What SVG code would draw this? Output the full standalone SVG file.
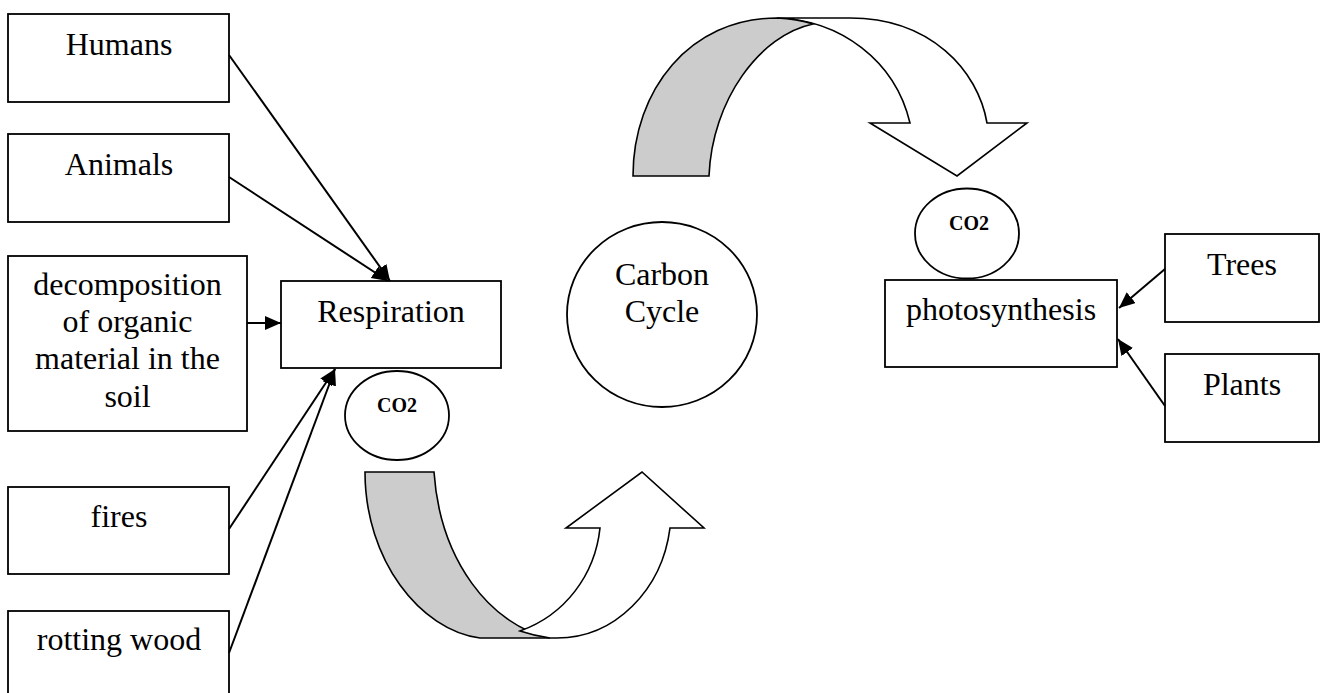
<svg xmlns="http://www.w3.org/2000/svg" width="1321" height="693" viewBox="0 0 1321 693">
<style>
.box{fill:#fff;stroke:#000;stroke-width:1.8}
.t{font-family:"Liberation Serif","Times New Roman",serif;font-size:32px;fill:#000;text-anchor:middle}
.co{font-family:"Liberation Serif","Times New Roman",serif;font-size:20px;font-weight:bold;fill:#000;text-anchor:middle}
.conn line{stroke:#000;stroke-width:2}
.band{stroke:#000;stroke-width:1.6;stroke-linejoin:miter}
</style>
<defs>
<marker id="ah" markerUnits="userSpaceOnUse" markerWidth="18" markerHeight="16" refX="16" refY="7" orient="auto">
<path d="M0,0 L16,7 L0,14 Z" fill="#000"/>
</marker>
</defs>
<rect width="1321" height="693" fill="#fff"/>

<g id="arrow-top">
<path class="band" fill="#fff" d="M777,18 L850,18 C930,18 978,70 987,123 L1027,123 L957,176 L870,123 L910,123 C895,60 840,20 777,18 Z"/>
<path class="band" fill="#ccc" d="M633,176 C633,90 690,18 777,18 Q797,19 813,24 C760,35 712,100 709,176 Z"/>
</g>
<g id="arrow-bottom">
<path class="band" fill="#ccc" d="M365,472 L434,472 C440,560 490,625 550,638 L480,638 C420,630 365,560 365,472 Z"/>
<path class="band" fill="#fff" d="M600,528 C595,575 565,615 520,631 Q535,636 550,638 L557,638 C615,638 662,590 670,528 L704,528 L642,472 L566,528 Z"/>
</g>

<g id="humans"><rect class="box" x="8" y="14" width="221" height="88"/><text class="t" x="119" y="55">Humans</text></g>
<g id="animals"><rect class="box" x="8" y="134" width="221" height="88"/><text class="t" x="119" y="175">Animals</text></g>
<g id="decomposition"><rect class="box" x="8" y="256" width="239" height="175"/>
<text class="t" x="127.5" y="295">decomposition</text>
<text class="t" x="127.5" y="332">of organic</text>
<text class="t" x="127.5" y="369">material in the</text>
<text class="t" x="127.5" y="407">soil</text></g>
<g id="fires"><rect class="box" x="8" y="487" width="221" height="87"/><text class="t" x="119" y="527">fires</text></g>
<g id="rotting-wood"><rect class="box" x="8" y="611" width="221" height="90"/><text class="t" x="119" y="650">rotting wood</text></g>
<g id="respiration"><rect class="box" x="281" y="281" width="220" height="87"/><text class="t" x="391" y="322">Respiration</text></g>
<g id="co2-left"><ellipse class="box" cx="397" cy="415.5" rx="52" ry="44.5"/><text class="co" x="397" y="412">CO2</text></g>
<g id="carbon-cycle"><ellipse class="box" cx="662" cy="314.5" rx="95" ry="92.5"/><text class="t" x="662" y="285">Carbon</text><text class="t" x="662" y="322">Cycle</text></g>
<g id="co2-right"><ellipse class="box" cx="967" cy="233.5" rx="52" ry="45"/><text class="co" x="969" y="230">CO2</text></g>
<g id="photosynthesis"><rect class="box" x="885" y="280" width="232" height="87"/><text class="t" x="1001" y="320">photosynthesis</text></g>
<g id="trees"><rect class="box" x="1165" y="234" width="154" height="88"/><text class="t" x="1242" y="275">Trees</text></g>
<g id="plants"><rect class="box" x="1165" y="354" width="154" height="88"/><text class="t" x="1242" y="395">Plants</text></g>

<g class="conn" id="connectors">
<line x1="229" y1="55" x2="390" y2="281" marker-end="url(#ah)"/>
<line x1="229" y1="177" x2="388" y2="281" marker-end="url(#ah)"/>
<line x1="247" y1="323" x2="281" y2="323" marker-end="url(#ah)"/>
<line x1="229" y1="529" x2="335" y2="369" marker-end="url(#ah)"/>
<line x1="229" y1="653" x2="335" y2="369" marker-end="url(#ah)"/>
<line x1="1165" y1="269" x2="1119" y2="308" marker-end="url(#ah)"/>
<line x1="1165" y1="406" x2="1118" y2="339" marker-end="url(#ah)"/>
</g>
</svg>
